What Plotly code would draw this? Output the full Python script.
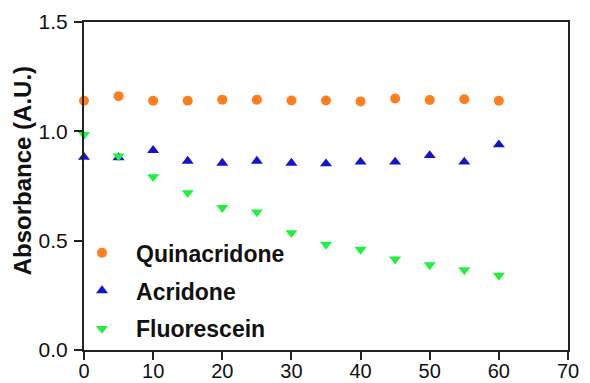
import plotly.graph_objects as go

# Time points (x) and absorbance readings for each dye
time_points = [0, 5, 10, 15, 20, 25, 30, 35, 40, 45, 50, 55, 60]
quinacridone = [1.140, 1.161, 1.140, 1.140, 1.145, 1.145, 1.141, 1.141, 1.137, 1.150, 1.143, 1.147, 1.140]
acridone = [0.882, 0.880, 0.913, 0.864, 0.855, 0.864, 0.855, 0.852, 0.860, 0.860, 0.890, 0.860, 0.939]
fluorescein = [0.985, 0.887, 0.792, 0.719, 0.651, 0.631, 0.536, 0.483, 0.460, 0.415, 0.389, 0.366, 0.341]

x_ticks = [0, 10, 20, 30, 40, 50, 60, 70]
y_ticks = [0.0, 0.5, 1.0, 1.5]
y_tick_labels = ["0.0", "0.5", "1.0", "1.5"]
y_title = "Absorbance (A.U.)"

FONT = "Liberation Sans, Arial, sans-serif"
AXIS_COLOR = "#222222"

series = [
    ("Quinacridone", quinacridone, "circle", "#FF7F1E", 10),
    ("Acridone", acridone, "triangle-up", "#1414C8", 10.5),
    ("Fluorescein", fluorescein, "triangle-down", "#1EF23C", 10.5),
]

fig = go.Figure()
for i, (name, values, symbol, color, size) in enumerate(series):
    fig.add_trace(go.Scatter(
        x=time_points, y=values, name=name, mode="markers",
        legendgroup=f"g{i}",
        marker=dict(symbol=symbol, color=color, size=size, line=dict(width=0)),
        cliponaxis=False,
    ))

axis_common = dict(
    showgrid=False, zeroline=False, automargin=False,
    showline=True, linecolor=AXIS_COLOR, linewidth=2, mirror=True,
    ticks="outside", ticklen=8, tickwidth=2, tickcolor=AXIS_COLOR,
    tickfont=dict(family=FONT, size=21, color="#111111"),
)

fig.update_layout(
    width=590, height=383,
    margin=dict(l=84, r=22, t=22, b=33),
    paper_bgcolor="white", plot_bgcolor="white",
    showlegend=True,
    legend=dict(
        x=-0.033, y=0.362, xanchor="left", yanchor="top",
        bgcolor="rgba(0,0,0,0)", borderwidth=0,
        font=dict(family=FONT, size=23, color="#111111", weight="bold"),
        itemwidth=58, tracegroupgap=5,
    ),
    xaxis=dict(range=[0, 70], tickvals=x_ticks, ticklabelstandoff=-6,
               **{**axis_common, "tickfont": dict(family=FONT, size=20, color="#111111")}),
    yaxis=dict(range=[0, 1.5], tickvals=y_ticks, ticktext=y_tick_labels,
               ticklabelstandoff=2, **axis_common),
    annotations=[dict(
        text=y_title, textangle=-90, showarrow=False,
        xref="paper", yref="paper", x=-0.128, y=0.545,
        xanchor="center", yanchor="middle",
        font=dict(family=FONT, size=24, color="#111111", weight="bold"),
    )],
)

fig.write_html("out.html")
